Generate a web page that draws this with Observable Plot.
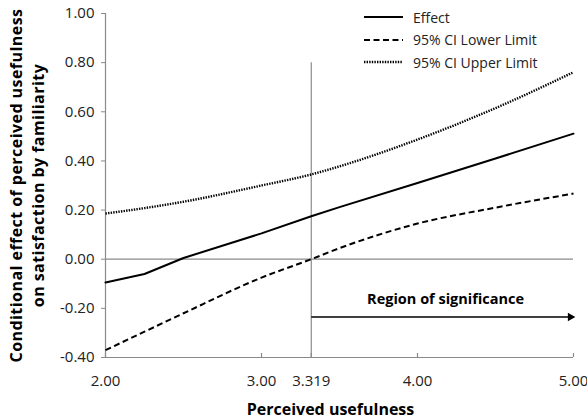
<!DOCTYPE html>
<html>
<head>
<meta charset="utf-8">
<script src="https://cdn.jsdelivr.net/npm/d3@7"></script>
<script src="https://cdn.jsdelivr.net/npm/@observablehq/plot@0.6"></script>
<style>
  html, body { margin: 0; padding: 0; background: white; }
  #wrap { position: relative; width: 587px; height: 420px; }
  #legend { position: absolute; left: 364px; top: 6px; font-family: "Open Sans", sans-serif; font-size: 14px; color: #222; }
  #legend .row { display: flex; align-items: center; height: 22.5px; }
  #legend svg { margin-right: 10px; }
</style>
</head>
<body>
<div id="wrap"><div id="legend"></div></div>
<script>
// ---- data ----
const xValues   = [2.0, 2.25, 2.5, 3.0, 3.319, 3.5, 4.0, 4.5, 5.0];
const effect    = [-0.095, -0.060, 0.005, 0.105, 0.175, 0.212, 0.310, 0.410, 0.511];
const lowerCI   = [-0.370, -0.295, -0.220, -0.075, 0.000, 0.045, 0.145, 0.210, 0.267];
const upperCI   = [0.186, 0.208, 0.234, 0.300, 0.345, 0.378, 0.487, 0.615, 0.761];
const seriesNames = ["Effect", "95% CI Lower Limit", "95% CI Upper Limit"];

const xTicks      = [2, 3, 3.319, 4, 5];
const xTickLabels = ["2.00", "3.00", "3.319", "4.00", "5.00"];
const yTicks      = [-0.4, -0.2, 0, 0.2, 0.4, 0.6, 0.8, 1.0];

const sigThreshold = 3.319;
const sigLineTop   = 0.8;
const arrowEnd     = 4.98;
const arrowY       = -0.235;
const regionLabel  = "Region of significance";
const regionLabelX = 4.18;
const regionLabelY = -0.163;

const xTitle = "Perceived usefulness";
const yTitle = "Conditional effect of perceived usefulness\non satisfaction by familiarity";

// ---- build tables ----
const rowsOf = (vals) => xValues.map((x, i) => ({x, y: vals[i]}));
const effectRows = rowsOf(effect);
const lowerRows = rowsOf(lowerCI);
const upperRows = rowsOf(upperCI);

const styles = [
  {strokeWidth: 2, strokeDasharray: null},
  {strokeWidth: 2, strokeDasharray: "6,3.5"},
  {strokeWidth: 2.4, strokeDasharray: "1.4,1.2"}
];

const axisGray = "#8a8a8a";

const chart = Plot.plot({
  width: 587,
  height: 420,
  marginLeft: 105,
  marginRight: 14,
  marginTop: 13,
  marginBottom: 63,
  x: {domain: [2, 5]},
  y: {domain: [-0.4, 1.0]},
  style: {fontFamily: "Open Sans, sans-serif", fontSize: "15px", color: "#222", background: "white"},
  marks: [
    Plot.ruleY([0], {stroke: axisGray, strokeWidth: 1.2}),
    Plot.ruleX([sigThreshold], {y1: sigLineTop, y2: -0.4, stroke: axisGray, strokeWidth: 1.2}),
    Plot.ruleX([2], {stroke: axisGray, strokeWidth: 1.2}),
    Plot.ruleY([-0.4], {stroke: axisGray, strokeWidth: 1.2}),
    Plot.axisY({ticks: yTicks, tickFormat: d => d.toFixed(2), tickSize: 4, tickPadding: 7, stroke: axisGray, label: null}),
    Plot.axisX({ticks: xTicks, tickFormat: d => xTickLabels[xTicks.indexOf(d)], tickSize: 0, tickPadding: 18, label: null}),
    Plot.ruleX(xTicks, {y1: -0.4, y2: -0.4, insetTop: -4, stroke: axisGray, strokeWidth: 1.2}),
    Plot.line(upperRows, {x: "x", y: "y", stroke: "black", strokeLinecap: "butt", curve: "monotone-x", ...styles[2]}),
    Plot.line(lowerRows, {x: "x", y: "y", stroke: "black", strokeLinecap: "butt", curve: "monotone-x", ...styles[1]}),
    Plot.line(effectRows, {x: "x", y: "y", stroke: "black", curve: "linear", ...styles[0]}),
    Plot.link([{x1: sigThreshold, x2: arrowEnd, y: arrowY}], {x1: "x1", x2: "x2", y1: "y", y2: "y", stroke: "black", strokeWidth: 1.5}),
    Plot.dot([{x: arrowEnd, y: arrowY}], {x: "x", y: "y", symbol: "triangle", rotate: 90, r: 3.2, fill: "black", stroke: "none"}),
    Plot.text([regionLabel], {x: () => regionLabelX, y: () => regionLabelY, text: d => d, fontWeight: "bold", fontSize: 14.5, fill: "black"}),
    Plot.text([xTitle], {frameAnchor: "bottom", lineAnchor: "middle", dy: 52, dx: -9, text: d => d, fontWeight: "bold", fontSize: 16, fill: "black"}),
    Plot.text([yTitle], {frameAnchor: "left", textAnchor: "middle", lineAnchor: "middle", dx: -80, rotate: -90, text: d => d, fontWeight: "bold", fontSize: 16, lineHeight: 1.38, fill: "black"})
  ]
});
document.getElementById("wrap").prepend(chart);
d3.select(chart).selectAll("text")
  .filter(function() { return this.textContent.startsWith("Conditional"); })
  .style("letter-spacing", "0.45px");

// ---- legend ----
const legend = document.getElementById("legend");
seriesNames.forEach((name, i) => {
  const row = document.createElement("div");
  row.className = "row";
  const st = styles[i];
  row.innerHTML = `<svg width="39" height="6"><line x1="0" y1="3" x2="39" y2="3" stroke="black" stroke-width="${st.strokeWidth}" ${st.strokeDasharray ? `stroke-dasharray="${st.strokeDasharray}"` : ""}/></svg><span>${name}</span>`;
  legend.appendChild(row);
});
</script>
</body>
</html>
